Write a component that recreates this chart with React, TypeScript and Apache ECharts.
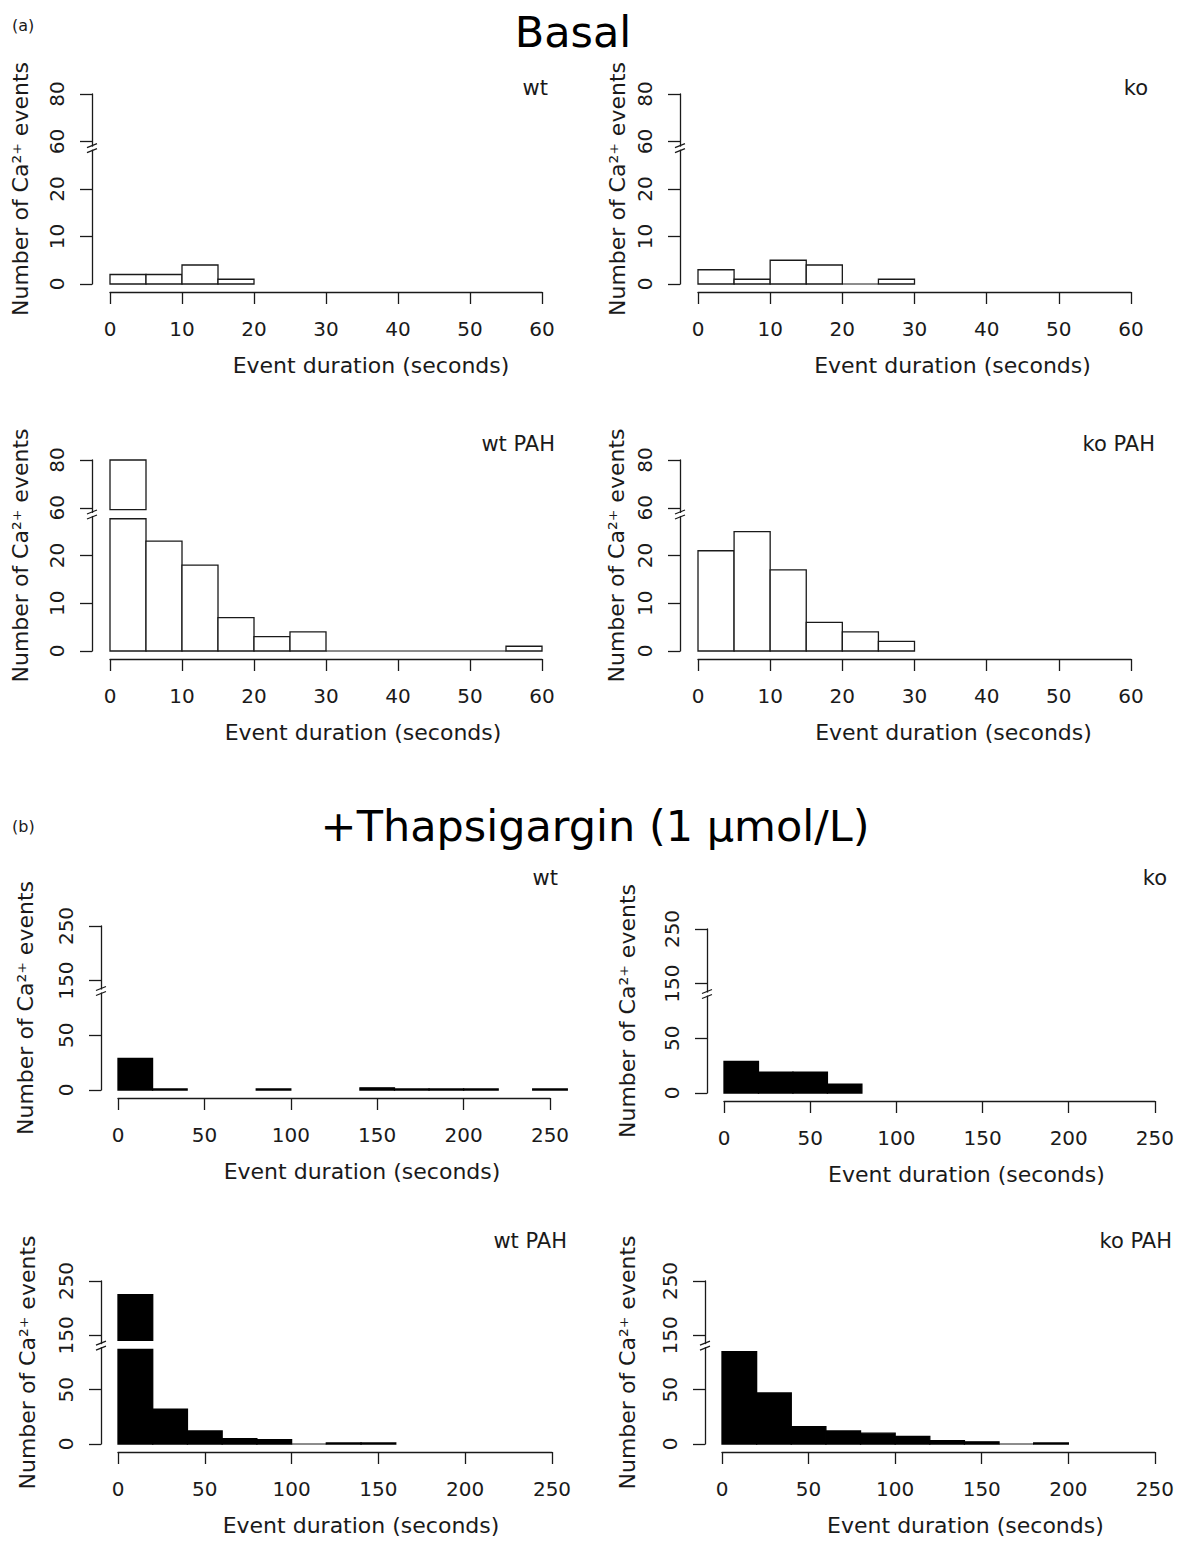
import React, { useEffect, useRef } from "react";
import * as echarts from "echarts";

// ---------------- data ----------------
const BASAL_BIN_WIDTH = 5;
const THAPS_BIN_WIDTH = 20;
const BASAL_X_TICKS = [0, 10, 20, 30, 40, 50, 60];
const THAPS_X_TICKS = [0, 50, 100, 150, 200, 250];
const BASAL_Y_TICKS = [0, 10, 20, 60, 80];
const THAPS_Y_TICKS = [0, 50, 150, 250];

// counts per bin (null = no bar drawn)
const BASAL_WT = [2, 2, 4, 1];
const BASAL_KO = [3, 1, 5, 4, 0, 1];
const BASAL_WT_PAH = [80, 23, 18, 7, 3, 4, 0, 0, 0, 0, 0, 1];
const BASAL_KO_PAH = [21, 25, 17, 6, 4, 2];
const THAPS_WT = [29, 1, null, null, 1, null, null, 2, 1, 1, 1, null, 1];
const THAPS_KO = [29, 19, 19, 8];
const THAPS_WT_PAH = [225, 32, 12, 5, 4, 0, 1, 1];
const THAPS_KO_PAH = [120, 47, 16, 12, 10, 7, 3, 2, 0, 1];

const PANEL_LABELS = ["wt", "ko", "wt PAH", "ko PAH"];
const X_TITLE = "Event duration (seconds)";
const Y_TITLE = "Number of Ca\u00B2\u207A events";
const TITLE_A = "Basal";
const TITLE_B = "+Thapsigargin (1 \u03BCmol/L)";

// ---------------- styling ----------------
const INK = "#1a1a1a";
const TICK_FONT = "DejaVu Sans";
const TEXT_FONT = "DejaVu Sans";

type Sec = {
  yTicks: number[];
  xTicks: number[];
  binWidth: number;
  fill: string;
  stroke: string;
  yOffset: number;
  lowerClip: number; // display units
  upperMin: number; // display units
  mark: number; // display units
};

const SEC_BASAL: Sec = {
  yTicks: BASAL_Y_TICKS,
  xTicks: BASAL_X_TICKS,
  binWidth: BASAL_BIN_WIDTH,
  fill: "#ffffff",
  stroke: INK,
  yOffset: 18,
  lowerClip: 27.7,
  upperMin: 29.6,
  mark: 28.6,
};
const SEC_THAPS: Sec = {
  yTicks: THAPS_Y_TICKS,
  xTicks: THAPS_X_TICKS,
  binWidth: THAPS_BIN_WIDTH,
  fill: "#000000",
  stroke: "#000000",
  yOffset: 17,
  lowerClip: 87,
  upperMin: 95.4,
  mark: 90.5,
};

function scaleInfo(s: Sec) {
  const t = s.yTicks;
  const interval = t[1] - t[0];
  let k = 1;
  while (k < t.length && t[k] - t[k - 1] === interval) k++;
  const U = k * interval;
  const V0 = t[k];
  const ratio = (t[k + 1] - t[k]) / interval;
  const maxDisp = (t.length - 1) * interval;
  return { interval, U, V0, ratio, maxDisp };
}

function toDisplay(v: number, s: Sec) {
  const { U, V0, ratio } = scaleInfo(s);
  if (v <= s.lowerClip) return v;
  return U + (v - V0) / ratio;
}

type Panel = {
  sec: Sec;
  values: (number | null)[];
  label: string;
  grid: [number, number, number, number];
  labelPos: [number, number];
  xShift: number;
  yNameGap: number;
};

const PANELS: Panel[] = [
  { sec: SEC_BASAL, values: BASAL_WT, label: PANEL_LABELS[0], grid: [110, 94, 432, 190], labelPos: [548, 88], xShift: 45, yNameGap: 61 },
  { sec: SEC_BASAL, values: BASAL_KO, label: PANEL_LABELS[1], grid: [698, 94, 433, 190], labelPos: [1148, 88], xShift: 38, yNameGap: 52 },
  { sec: SEC_BASAL, values: BASAL_WT_PAH, label: PANEL_LABELS[2], grid: [110, 460, 432, 191], labelPos: [555, 444], xShift: 37, yNameGap: 61 },
  { sec: SEC_BASAL, values: BASAL_KO_PAH, label: PANEL_LABELS[3], grid: [698, 460, 433, 191], labelPos: [1155, 444], xShift: 39, yNameGap: 53 },
  { sec: SEC_THAPS, values: THAPS_WT, label: PANEL_LABELS[0], grid: [118, 926, 432, 164], labelPos: [558, 878], xShift: 28, yNameGap: 65 },
  { sec: SEC_THAPS, values: THAPS_KO, label: PANEL_LABELS[1], grid: [724, 929, 434, 164], labelPos: [1167, 878], xShift: 27, yNameGap: 69 },
  { sec: SEC_THAPS, values: THAPS_WT_PAH, label: PANEL_LABELS[2], grid: [118, 1281, 434, 163], labelPos: [567, 1241], xShift: 26, yNameGap: 63 },
  { sec: SEC_THAPS, values: THAPS_KO_PAH, label: PANEL_LABELS[3], grid: [722, 1281, 433, 163], labelPos: [1172, 1241], xShift: 27, yNameGap: 67 },
];

function barRender(s: Sec) {
  return (params: any, api: any) => {
    const x0 = api.value(0);
    const x1 = api.value(1);
    const v = api.value(2);
    if (v === null || v === undefined || isNaN(v)) return null;
    const p0 = api.coord([x0, 0]);
    const p1 = api.coord([x1, 0]);
    const stroke = { stroke: s.stroke, lineWidth: 1.3 };
    const children: any[] = [];
    if (v === 0) {
      children.push({
        type: "line",
        shape: { x1: p0[0], y1: p0[1], x2: p1[0], y2: p0[1] },
        style: { stroke: INK, lineWidth: 1 },
      });
    } else {
      const disp = toDisplay(v, s);
      const lowTop = Math.min(disp, s.lowerClip);
      const pyLow = api.coord([x0, lowTop])[1];
      children.push({
        type: "rect",
        shape: { x: p0[0], y: pyLow, width: p1[0] - p0[0], height: p0[1] - pyLow },
        style: { fill: s.fill, ...stroke },
      });
      if (disp > s.upperMin) {
        const pyU0 = api.coord([x0, s.upperMin])[1];
        const pyU1 = api.coord([x0, disp])[1];
        children.push({
          type: "rect",
          shape: { x: p0[0], y: pyU1, width: p1[0] - p0[0], height: pyU0 - pyU1 },
          style: { fill: s.fill, ...stroke },
        });
      }
    }
    return { type: "group", children };
  };
}

function breakRender(s: Sec) {
  return (params: any, api: any) => {
    const cs = params.coordSys;
    const ax = cs.x - s.yOffset;
    const py = api.coord([s.xTicks[0], api.value(1)])[1];
    const ls = { stroke: INK, lineWidth: 1.2 };
    return {
      type: "group",
      children: [
        { type: "rect", shape: { x: ax - 3, y: py - 1.5, width: 6, height: 3 }, style: { fill: "#ffffff" } },
        { type: "line", shape: { x1: ax - 5, y1: py - 0.5, x2: ax + 5, y2: py - 4.5 }, style: ls },
        { type: "line", shape: { x1: ax - 5, y1: py + 4.5, x2: ax + 5, y2: py + 0.5 }, style: ls },
      ],
    };
  };
}

export default function App() {
  const ref = useRef<HTMLDivElement>(null);
  useEffect(() => {
    if (!ref.current) return;
    const chart = echarts.init(ref.current, undefined, { renderer: "svg" });
    const grid: any[] = [];
    const xAxis: any[] = [];
    const yAxis: any[] = [];
    const series: any[] = [];
    const graphic: any[] = [];

    PANELS.forEach((p, i) => {
      const s = p.sec;
      const info = scaleInfo(s);
      grid.push({ left: p.grid[0], top: p.grid[1], width: p.grid[2], height: p.grid[3] });
      xAxis.push({
        type: "value",
        gridIndex: i,
        min: s.xTicks[0],
        max: s.xTicks[s.xTicks.length - 1],
        interval: s.xTicks[1] - s.xTicks[0],
        position: "bottom",
        offset: 8,
        axisLine: { show: true, onZero: false, lineStyle: { color: INK, width: 1.3 } },
        axisTick: { show: true, length: 12, lineStyle: { color: INK, width: 1.3 } },
        axisLabel: { margin: 27, fontFamily: TICK_FONT, fontSize: 20, color: INK },
        splitLine: { show: false },
        name: X_TITLE,
        nameLocation: "middle",
        nameGap: 62,
        nameTextStyle: {
          fontFamily: TEXT_FONT,
          fontSize: 22,
          color: INK,
          padding: [0, 0, 0, 2 * p.xShift],
        },
      });
      yAxis.push({
        type: "value",
        gridIndex: i,
        min: 0,
        max: info.maxDisp,
        interval: info.interval,
        position: "left",
        offset: s.yOffset,
        axisLine: { show: true, onZero: false, lineStyle: { color: INK, width: 1.3 } },
        axisTick: { show: true, length: 12, lineStyle: { color: INK, width: 1.3 } },
        axisLabel: {
          rotate: 90,
          margin: 25,
          fontFamily: TICK_FONT,
          fontSize: 20,
          color: INK,
          formatter: (v: number) => String(s.yTicks[Math.round(v / info.interval)]),
        },
        splitLine: { show: false },
        name: Y_TITLE,
        nameLocation: "middle",
        nameGap: p.yNameGap,
        nameTextStyle: { fontFamily: TEXT_FONT, fontSize: 22, color: INK },
      });
      const data = p.values
        .map((v, j) => [j * s.binWidth, (j + 1) * s.binWidth, v])
        .filter((d) => d[2] !== null);
      series.push({
        type: "custom",
        xAxisIndex: i,
        yAxisIndex: i,
        clip: false,
        encode: { x: [0, 1], y: 2 },
        data,
        renderItem: barRender(s),
      });
      series.push({
        type: "custom",
        xAxisIndex: i,
        yAxisIndex: i,
        clip: false,
        encode: { x: 0, y: 1 },
        data: [[s.xTicks[0], s.mark]],
        renderItem: breakRender(s),
      });
      graphic.push({
        type: "text",
        x: p.labelPos[0],
        y: p.labelPos[1],
        style: {
          text: p.label,
          fill: INK,
          font: `21px "${TEXT_FONT}"`,
          align: "right",
          verticalAlign: "middle",
        },
      });
    });

    graphic.push(
      { type: "text", x: 12, y: 25, style: { text: "(a)", fill: INK, font: `16px "${TEXT_FONT}"`, align: "left", verticalAlign: "middle" } },
      { type: "text", x: 573, y: 32, style: { text: TITLE_A, fill: "#000", font: `43px "${TEXT_FONT}"`, align: "center", verticalAlign: "middle" } },
      { type: "text", x: 12, y: 826, style: { text: "(b)", fill: INK, font: `16px "${TEXT_FONT}"`, align: "left", verticalAlign: "middle" } },
      { type: "text", x: 595, y: 826, style: { text: TITLE_B, fill: "#000", font: `43px "${TEXT_FONT}"`, align: "center", verticalAlign: "middle" } }
    );

    chart.setOption({
      animation: false,
      backgroundColor: "#ffffff",
      grid,
      xAxis,
      yAxis,
      series,
      graphic,
    });
    return () => chart.dispose();
  }, []);
  return (
    <div
      ref={ref}
      style={{ position: "absolute", left: 0, top: 0, width: 1177, height: 1542, background: "#fff" }}
    />
  );
}
